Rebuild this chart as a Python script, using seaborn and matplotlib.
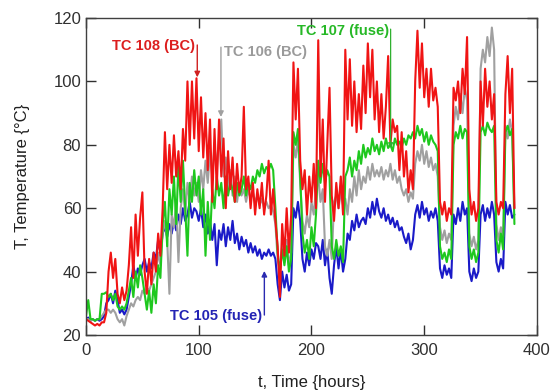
import numpy as np
import pandas as pd
import matplotlib
matplotlib.use("Agg")
import matplotlib.pyplot as plt
import seaborn as sns

# time axis (hours), one reading every 2 hours
t_start, t_stop, t_step = 0, 380, 2

tc108_bc = [25, 24.5, 24, 23.5, 23, 23.5, 23, 24, 24, 27,
            40, 46, 38, 44, 33, 30, 35, 31, 34, 42,
            54, 38, 58, 45, 57, 65, 40, 33, 44, 36,
            46, 40, 52, 45, 60, 84, 66, 80, 68, 83,
            70, 78, 66, 85, 75, 100, 80, 100, 82, 101,
            78, 95, 76, 90, 72, 88, 62, 85, 66, 88,
            70, 82, 60, 78, 66, 76, 62, 74, 65, 70,
            92, 66, 70, 60, 68, 58, 66, 60, 68, 58,
            64, 75, 58, 66, 56, 48, 32, 55, 45, 60,
            46, 58, 106, 88, 104, 75, 66, 72, 58, 70,
            62, 74, 60, 113, 70, 88, 62, 80, 98, 64,
            56, 68, 60, 70, 58, 110, 88, 107, 86, 100,
            84, 96, 85, 105, 90, 112, 95, 110, 88, 100,
            84, 96, 82, 92, 108, 80, 88, 84, 86, 72,
            84, 70, 78, 65, 72, 66, 100, 116, 98, 112,
            95, 104, 92, 104, 94, 98, 92, 62, 58, 62,
            56, 60, 58, 98, 94, 100, 90, 104, 96, 114,
            66, 58, 62, 56, 60, 100, 86, 104, 92, 100,
            88, 96, 62, 58, 62, 60, 96, 108, 90, 104,
            60]

tc107_fuse = [26, 31, 25, 25, 24.5, 25, 25, 33, 33, 33.5,
              32, 33, 31, 33, 29, 28, 29, 28, 30, 34,
              38, 32, 40, 35, 42, 38, 33, 28, 34, 27,
              36, 30, 42, 38, 55, 62, 48, 66, 58, 70,
              55, 74, 62, 75, 60, 45, 68, 62, 72, 64,
              70, 58, 66, 45, 62, 50, 66, 60, 70, 64,
              68, 60, 70, 64, 68, 66, 62, 68, 64, 66,
              70, 64, 68, 66, 70, 68, 72, 70, 74, 71,
              73, 72, 74, 72, 60, 46, 40, 47, 42, 48,
              40, 44, 84, 80, 85, 70, 52, 46, 50, 44,
              54, 48, 58, 75, 68, 74, 68, 72, 70, 48,
              44, 50, 45, 48, 43, 70, 72, 76, 70, 75,
              72, 78, 74, 80, 76, 79, 77, 82, 78, 80,
              77, 81, 78, 82, 79, 80, 78, 82, 80, 81,
              79, 82, 80, 83, 82, 84, 82, 86, 83, 85,
              81, 84, 80, 83, 81, 80, 78, 48, 44, 46,
              43, 47, 44, 80, 84, 82, 86, 82, 85, 84,
              48, 44, 47, 43, 46, 84, 86, 83, 87, 85,
              84, 86, 50, 46, 52, 47, 84, 86, 83, 85,
              55]

tc106_bc = [25, 25, 24.5, 25, 24.5, 25, 25, 26, 27, 28,
            28, 27, 28, 27, 25, 24, 25, 23, 26, 28,
            30, 29, 31, 32, 31, 34, 33, 35, 34, 36,
            38, 40, 46, 42, 52, 56, 50, 33, 58, 54,
            62, 43, 60, 66, 58, 68, 62, 70, 64, 68,
            62, 72, 66, 75, 68, 78, 70, 80, 72, 82,
            88, 70, 76, 66, 72, 64, 70, 62, 68, 64,
            66, 62, 66, 63, 65, 62, 64, 61, 63, 60,
            62, 60, 61, 59, 55, 44, 40, 48, 43, 50,
            42, 46, 80, 76, 82, 68, 56, 52, 58, 54,
            62, 58, 66, 70, 62, 66, 48, 45, 50, 44,
            62, 64, 60, 65, 61, 63, 58, 66, 62, 70,
            64, 72, 66, 70, 68, 73, 69, 74, 70, 72,
            70, 73, 69, 72, 70, 74, 69, 72, 68, 70,
            66, 64, 66, 62, 65, 63, 74, 78, 75, 80,
            74, 78, 73, 76, 72, 74, 70, 54, 50, 53,
            49, 52, 50, 86, 92, 88, 96, 90, 98, 94,
            52, 48, 51, 47, 50, 104, 110, 106, 114, 108,
            117, 110, 55, 50, 54, 51, 86, 82, 88, 84,
            60]

tc105_fuse = [25, 25.5, 24.5, 25, 24.5, 25, 24.5, 25, 26, 30,
              31, 33, 30, 34, 31, 27, 28, 26.5, 28, 32,
              36, 42, 38, 41, 39, 42, 44, 40, 43, 41,
              46, 44, 50, 46, 52, 54, 51, 55, 52, 56,
              53, 58, 55, 60, 56, 58, 62, 57, 60, 59,
              56, 60, 54, 58, 52, 56, 50, 55, 42, 53,
              50, 55, 48, 54, 50, 56, 49, 52, 47, 51,
              48, 50, 46, 49, 46, 48, 45, 47, 44, 46,
              45, 47, 45, 46, 44, 36, 31, 40, 35, 39,
              34, 36, 60, 57, 62, 56, 44, 40, 46, 42,
              47, 44, 49, 48, 44, 50, 42, 47, 38, 33,
              42, 48, 41, 47, 40, 44, 52, 50, 56, 53,
              58, 54, 56, 57, 55, 60, 57, 62, 58, 63,
              59, 57, 60, 56, 58, 55, 57, 54, 56, 53,
              54, 51, 49, 52, 47, 50, 58, 61, 57, 62,
              58, 60, 56, 59, 57, 60, 56, 41, 38, 42,
              39, 41, 38, 58, 55, 60, 56, 62, 58, 60,
              40, 37, 41, 38, 40, 58, 61, 56, 60, 57,
              62, 58, 43, 40, 44, 41, 62, 58, 61, 57,
              58]

series_names = ["TC 105 (fuse)", "TC 106 (BC)", "TC 107 (fuse)", "TC 108 (BC)"]
x_ticks = [0, 100, 200, 300, 400]
y_ticks = [20, 40, 60, 80, 100, 120]

colors = {"TC 105 (fuse)": "#1a1ac8", "TC 106 (BC)": "#a0a0a0",
          "TC 107 (fuse)": "#1ec81e", "TC 108 (BC)": "#f01414"}
text_colors = {"TC 105 (fuse)": "#2323b4", "TC 106 (BC)": "#9a9a9a",
               "TC 107 (fuse)": "#26b826", "TC 108 (BC)": "#dc1e1e"}

t = np.arange(t_start, t_stop + t_step, t_step)
frames = []
for name, vals in zip(series_names, [tc105_fuse, tc106_bc, tc107_fuse, tc108_bc]):
    frames.append(pd.DataFrame({"t": t, "T": vals, "sensor": name}))
df = pd.concat(frames, ignore_index=True)

sns.set_style("ticks")
plt.rcParams["font.family"] = ["Liberation Sans", "DejaVu Sans"]

fig = plt.figure(figsize=(5.53, 3.92), dpi=100)
ax = fig.add_axes([0.1555, 0.1454, 0.971 - 0.1555, 0.954 - 0.1454])

sns.lineplot(data=df, x="t", y="T", hue="sensor", hue_order=series_names,
             palette=colors, estimator=None, errorbar=None, sort=False,
             linewidth=1.5, legend=False, ax=ax)

ax.set_xlim(0, 400)
ax.set_ylim(20, 120)
ax.set_xticks(x_ticks)
ax.set_yticks(y_ticks)
ax.tick_params(direction="in", length=7, width=1, top=True, right=True,
               labelsize=12, colors="#303030")
ax.tick_params(axis="x", pad=6)
ax.tick_params(axis="y", pad=3.5)
for s in ax.spines.values():
    s.set_color("#404040")
    s.set_linewidth(1)
    s.set_visible(True)

ax.set_xlabel("t, Time {hours}", fontsize=12, labelpad=12, color="#202020")
ax.set_ylabel("T, Temperature {°C}", fontsize=12, labelpad=17, color="#202020")

fs = 10.5
# TC 108 label
ax.text(96.5, 111.3, "TC 108 (BC)", color=text_colors["TC 108 (BC)"],
        fontsize=fs, fontweight="bold", ha="right", va="center")
ax.annotate("", xy=(98.7, 101.3), xytext=(98.7, 111.5),
            arrowprops=dict(arrowstyle="-|>", color="#d02020", lw=1.0,
                            mutation_scale=8, shrinkA=0, shrinkB=0))
# TC 106 label
ax.text(122.0, 109.3, "TC 106 (BC)", color=text_colors["TC 106 (BC)"],
        fontsize=fs, fontweight="bold", ha="left", va="center")
ax.annotate("", xy=(119.7, 88.8), xytext=(119.7, 110.8),
            arrowprops=dict(arrowstyle="-|>", color="#a0a0a0", lw=1.0,
                            mutation_scale=8, shrinkA=0, shrinkB=0))
# TC 107 label
ax.text(269.0, 115.9, "TC 107 (fuse)", color=text_colors["TC 107 (fuse)"],
        fontsize=fs, fontweight="bold", ha="right", va="center")
ax.annotate("", xy=(270.2, 79), xytext=(270.2, 116.5),
            arrowprops=dict(arrowstyle="-|>", color="#30b030", lw=0.9,
                            mutation_scale=7, shrinkA=0, shrinkB=0))
# TC 105 label
ax.text(156.5, 26.0, "TC 105 (fuse)", color=text_colors["TC 105 (fuse)"],
        fontsize=fs, fontweight="bold", ha="right", va="center")
ax.annotate("", xy=(158.2, 40.2), xytext=(158.2, 26.3),
            arrowprops=dict(arrowstyle="-|>", color="#2a2ab0", lw=1.0,
                            mutation_scale=8, shrinkA=0, shrinkB=0))

fig.savefig("out.png", dpi=100)
